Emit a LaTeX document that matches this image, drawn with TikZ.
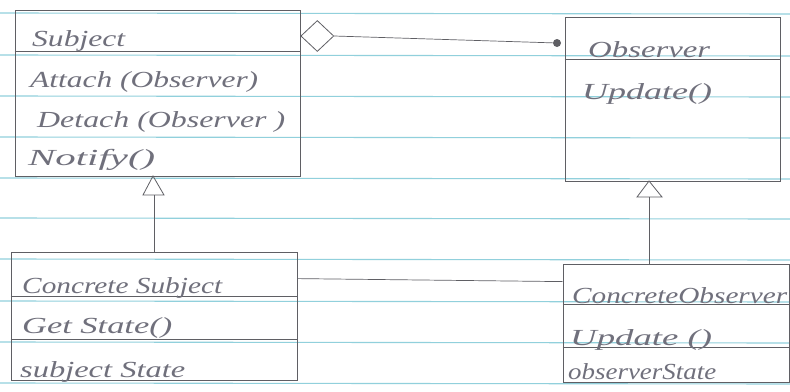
\documentclass[tikz,border=0pt]{standalone}
\usepackage{fontspec}
\setmainfont{Liberation Serif}
\usepackage{graphicx}
\usetikzlibrary{shapes.geometric,calc}
\definecolor{rulecol}{RGB}{145,208,220}
\definecolor{pencil}{RGB}{95,95,100}
\definecolor{ink}{RGB}{112,112,124}
\newcommand{\hw}[2]{\resizebox{#1pt}{\height}{#2}}
\begin{document}
\begin{tikzpicture}[x=1pt,y=-1pt,
  umlbox/.style={draw=pencil, line width=0.8pt, rectangle, inner sep=0pt},
  divider/.style={draw=pencil, line width=0.9pt},
  conn/.style={draw=pencil, line width=0.7pt},
  ruled/.style={draw=rulecol, line width=1.1pt},
  txt/.style={anchor=base west, inner sep=0pt, text=ink, font=\fontsize{23}{25}\selectfont\itshape}]
\useasboundingbox (0,0) rectangle (790,391);
\fill[white] (0,0) rectangle (790,391);
% ruled paper lines
\foreach \y in {13,55,96,137,178,218,259,301,342,383}
  \draw[ruled] (0,\y) -- (790,\y+1);

% class boxes
\node[umlbox, minimum width=285pt, minimum height=166pt] (subj) at (157.5,93) {};
\node[umlbox, minimum width=215pt, minimum height=164pt] (obs) at (672.5,99) {};
\node[umlbox, minimum width=286pt, minimum height=128pt] (csubj) at (154,316) {};
\node[umlbox, minimum width=226pt, minimum height=118pt] (cobs) at (676,323) {};

% compartment dividers
\draw[divider] ($(subj.north west)+(0,42)$) -- ($(subj.north east)+(0,42)$);
\draw[divider] ($(obs.north west)+(0,43)$) -- ($(obs.north east)+(0,43)$);
\draw[divider] ($(csubj.north west)+(0,45)$) -- ($(csubj.north east)+(0,45)$);
\draw[divider] ($(csubj.north west)+(0,88)$) -- ($(csubj.north east)+(0,88)$);
\draw[divider] ($(cobs.north west)+(0,41)$) -- ($(cobs.north east)+(0,41)$);
\draw[divider] ($(cobs.north west)+(0,84)$) -- ($(cobs.north east)+(0,84)$);

% texts
\node[txt] (t1) at (32,46) {\hw{93}{Subject}};
\node[txt] (t2) at (30,87) {\hw{228}{Attach (Observer)}};
\node[txt] (t3) at (37,127) {\hw{248}{Detach (Observer )}};
\node[txt] (t4) at (28,165) {\hw{127}{Notify()}};
\node[txt] (t5) at (588,57) {\hw{122}{Observer}};
\node[txt] (t6) at (582,99) {\hw{130}{Update()}};
\node[txt] (t7) at (22,293) {\hw{200}{Concrete Subject}};
\node[txt] (t8) at (22,333) {\hw{150}{Get State()}};
\node[txt] (t9) at (20,377) {\hw{165}{subject State}};
\node[txt] (t10) at (572,303) {\hw{215}{ConcreteObserver}};
\node[txt] (t11) at (570,345) {\hw{142}{Update ()}};
\node[txt] (t12) at (568,379) {\hw{148}{observerState}};

% aggregation: hollow diamond at Subject, dot at Observer
\node[draw=pencil, line width=0.8pt, diamond, inner sep=0pt, minimum width=33pt, minimum height=31pt, anchor=west] (agg) at (subj.east |- 0,36) {};
\node[circle, fill=pencil, inner sep=0pt, minimum size=8pt] (dot) at (557,43) {};
\draw[conn] (agg.east) -- (dot);

% generalization triangles
\coordinate (sa) at (153,176);
\coordinate (oa) at (649,181);
\draw[conn, line width=0.8pt] (sa) -- (164,195) -- (143,195) -- cycle;
\draw[conn, line width=0.8pt] (oa) -- (662,197) -- (637,197) -- cycle;
\draw[conn] (154,195) -- (csubj.north -| 154,0);
\draw[conn] (649,197) -- (cobs.north -| 649,0);

% association between concrete classes
\draw[conn] ($(csubj.north east)+(0,27)$) -- ($(cobs.north west)+(0,18)$);
\end{tikzpicture}
\end{document}
